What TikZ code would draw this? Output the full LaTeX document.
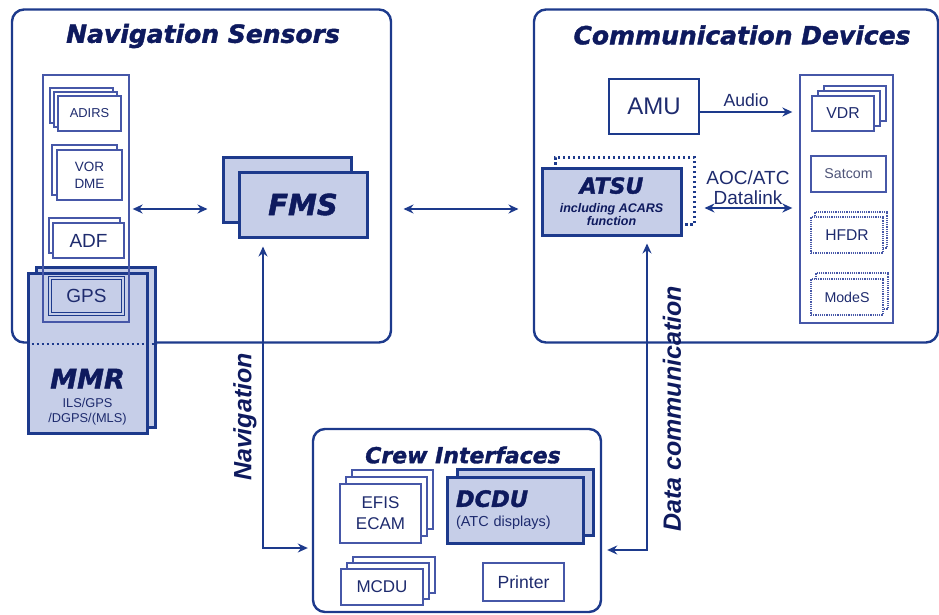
\documentclass[tikz,border=0pt]{standalone}
\usepackage{fontspec}
\setmainfont{Liberation Sans}
\newfontfamily\heavyfont{DejaVu Sans}[BoldItalicFeatures={FakeBold=1.6}]
\usepackage{xcolor}
\usepackage{tikz}
\usetikzlibrary{arrows.meta, shadows, calc}

\definecolor{navytext}{HTML}{0E1A5E}
\definecolor{navyline}{HTML}{1D3A8C}
\definecolor{midline}{HTML}{4657A8}
\definecolor{boxfill}{HTML}{C6CEE8}
\definecolor{labeltext}{HTML}{1E2B6E}
\definecolor{greytext}{HTML}{4E5478}

\newcommand{\heavy}{\heavyfont\bfseries\itshape}
\newcommand{\fsz}[1]{\fontsize{#1}{#1}\selectfont}

\begin{document}
\begin{tikzpicture}[
    x=1pt, y=-1pt,
    group/.style={draw=navyline, line width=2.4pt, rounded corners=12pt, inner sep=0pt},
    column/.style={draw=midline, line width=1.3pt, inner sep=0pt},
    unit/.style={draw=midline, line width=1.6pt, fill=white, inner sep=0pt, text=labeltext, align=center},
    core/.style={draw=navyline, line width=3pt, fill=boxfill, inner sep=0pt, text=navytext},
    title/.style={font=\heavy\fsz{25}, text=navytext},
    stackback/.style 2 args={copy shadow={shadow xshift=#1, shadow yshift=#2, fill=white, draw=midline, line width=1.6pt}},
    dotback/.style 2 args={copy shadow={shadow xshift=#1, shadow yshift=#2, fill=white, draw=midline, line width=1.2pt, densely dotted}},
    arrow/.style={draw=navyline, line width=2pt, ->, >={Stealth[length=10pt,width=9pt]}}
]
\useasboundingbox (0,0) rectangle (939,615);

% Groups
\node[group, minimum width=379pt, minimum height=333pt] (navbox) at (201.5,176) {};
\node[title] (navtitle) at (203,36) {Navigation Sensors};
\node[group, minimum width=404pt, minimum height=333pt] (commbox) at (736,176) {};
\node[title] (commtitle) at (742,35) {Communication Devices};
\node[group, minimum width=288pt, minimum height=183pt] (crewbox) at (457,520.5) {};
\node[title, font=\heavy\fsz{22}] (crewtitle) at (463,455) {Crew Interfaces};

% Navigation sensors
\node[core, minimum width=119pt, minimum height=160pt,
  copy shadow={shadow xshift=8pt, shadow yshift=6pt, fill=boxfill, draw=navyline, line width=3pt}] (mmr) at (87.5,353) {};
\draw[navyline, line width=2.4pt, dash pattern=on 2pt off 3pt] (mmr.west |- navbox.south) -- ([xshift=8pt]mmr.east |- navbox.south);
\node[text=labeltext, align=center, font=\fontsize{12.8}{15}\selectfont] (mmrtext) at ([yshift=-44pt]mmr.center)
  {{\heavy\fsz{27}\color{navytext}MMR}\\[4pt] ILS/GPS\\ /DGPS/(MLS)};
\node[column, minimum width=86pt, minimum height=247pt] (navcol) at (86,198.5) {};
\node[unit, minimum width=63pt, minimum height=35pt, stackback={-8pt}{8pt}, stackback={-4pt}{4pt},
  font=\fsz{12.9}] (adirs) at (89.5,113.5) {ADIRS};
\node[unit, minimum width=65pt, minimum height=50pt, stackback={-5pt}{5pt},
  font=\fontsize{13.5}{17}\selectfont] (vordme) at (89.5,175) {VOR\\DME};
\node[unit, minimum width=71pt, minimum height=35pt, stackback={-4pt}{5pt}, font=\fsz{19}] (adf) at (88.5,240.5) {ADF};
\node[unit, minimum width=73pt, minimum height=36pt, fill=boxfill, draw=navyline, line width=0.9pt,
  double=boxfill, double distance=1.6pt, font=\fsz{19}] (gps) at (86.5,296) {GPS};
\node[core, minimum width=128pt, minimum height=65pt,
  copy shadow={shadow xshift=-16pt, shadow yshift=15pt, fill=boxfill, draw=navyline, line width=3pt},
  font=\heavy\fsz{29}] (fms) at (303,204.5) {FMS};

% Communication devices
\node[unit, draw=navyline, line width=2pt, minimum width=90pt, minimum height=55pt, font=\fsz{24}] (amu) at (654,106.5) {AMU};
\node[column, minimum width=93pt, minimum height=248pt] (commcol) at (846.5,199) {};
\node[unit, minimum width=62pt, minimum height=35pt, stackback={12pt}{10pt}, stackback={6pt}{5pt},
  font=\fsz{15.8}] (vdr) at (843,113.5) {VDR};
\node[unit, minimum width=75pt, minimum height=36pt, font=\fsz{14.2}, text=greytext] (satcom) at (848.5,174) {Satcom};
\node[unit, line width=1.2pt, densely dotted, minimum width=72pt, minimum height=36pt, dotback={4pt}{5pt},
  font=\fsz{15.6}] (hfdr) at (847,235) {HFDR};
\node[unit, line width=1.2pt, densely dotted, minimum width=72pt, minimum height=36pt, dotback={5pt}{6pt},
  font=\fsz{14.2}] (modes) at (847,297) {ModeS};
\node[core, minimum width=139pt, minimum height=67pt, align=center,
  copy shadow={shadow xshift=13pt, shadow yshift=11pt, fill=white, draw=navyline, line width=3pt, dash pattern=on 2.5pt off 2.5pt},
  font=\bfseries\itshape\fontsize{12.5}{13.5}\selectfont] (atsu) at (611.5,201.5)
  {{\heavy\fsz{22}ATSU}\\[5pt] including ACARS\\ function};

% Crew interfaces
\node[unit, minimum width=81pt, minimum height=59pt, stackback={12pt}{14pt}, stackback={6pt}{7pt},
  font=\fontsize{17}{21}\selectfont] (efis) at (380.5,513.5) {EFIS\\ECAM};
\node[core, minimum width=136pt, minimum height=66pt, align=left, text width=118pt,
  copy shadow={shadow xshift=10pt, shadow yshift=8pt, fill=boxfill, draw=navyline, line width=3pt},
  font=\fontsize{14.5}{17}\selectfont] (dcdu) at (515,510)
  {{\heavy\fsz{22.5}DCDU}\\[3pt] {\color{labeltext}(ATC displays)}};
\node[unit, minimum width=82pt, minimum height=36pt, stackback={12pt}{12pt}, stackback={6pt}{6pt},
  font=\fsz{17}] (mcdu) at (382,587) {MCDU};
\node[unit, minimum width=81pt, minimum height=38pt, font=\fsz{17.6}] (printer) at (523.5,582) {Printer};

% Links
\draw[arrow, <->] ([xshift=3pt,yshift=-4.5pt]navcol.east |- fms.east) -- ([xshift=-30pt,yshift=-4.5pt]fms.west);
\draw[arrow, <->] ([xshift=35pt,yshift=-4.5pt]fms.east) -- ([xshift=-22pt,yshift=-4.5pt]fms.east -| atsu.west);
\draw[arrow] ([yshift=-5.5pt]amu.east) -- ([xshift=-7pt,yshift=-5.5pt]amu.east -| commcol.west)
  node[midway, above=3pt, inner sep=1pt, text=labeltext, font=\fsz{17.6}] (audio) {Audio};
\draw[arrow, <->] ([xshift=22pt,yshift=-6.5pt]atsu.east) -- ([xshift=-7pt,yshift=-6.5pt]atsu.east -| commcol.west);
\node[text=labeltext, align=center, font=\fontsize{19}{20}\selectfont] (datalink) at (748,188) {AOC/ATC\\Datalink};
\draw[arrow, <->, line width=1.4pt] ([xshift=-4pt,yshift=-27.5pt]crewbox.west) -| ([xshift=-40pt,yshift=-8pt]fms.south);
\draw[arrow, <->, line width=1.4pt] ([xshift=5pt,yshift=-29.5pt]crewbox.east) -| ([xshift=35.5pt,yshift=-7pt]atsu.south);
\node[rotate=90, text=navytext, font=\bfseries\itshape\fsz{25}] (navlabel) at (245,417) {Navigation};
\node[rotate=90, text=navytext, font=\bfseries\itshape\fsz{25}] (datalabel) at (672,409) {Data communication};

\end{tikzpicture}
\end{document}
